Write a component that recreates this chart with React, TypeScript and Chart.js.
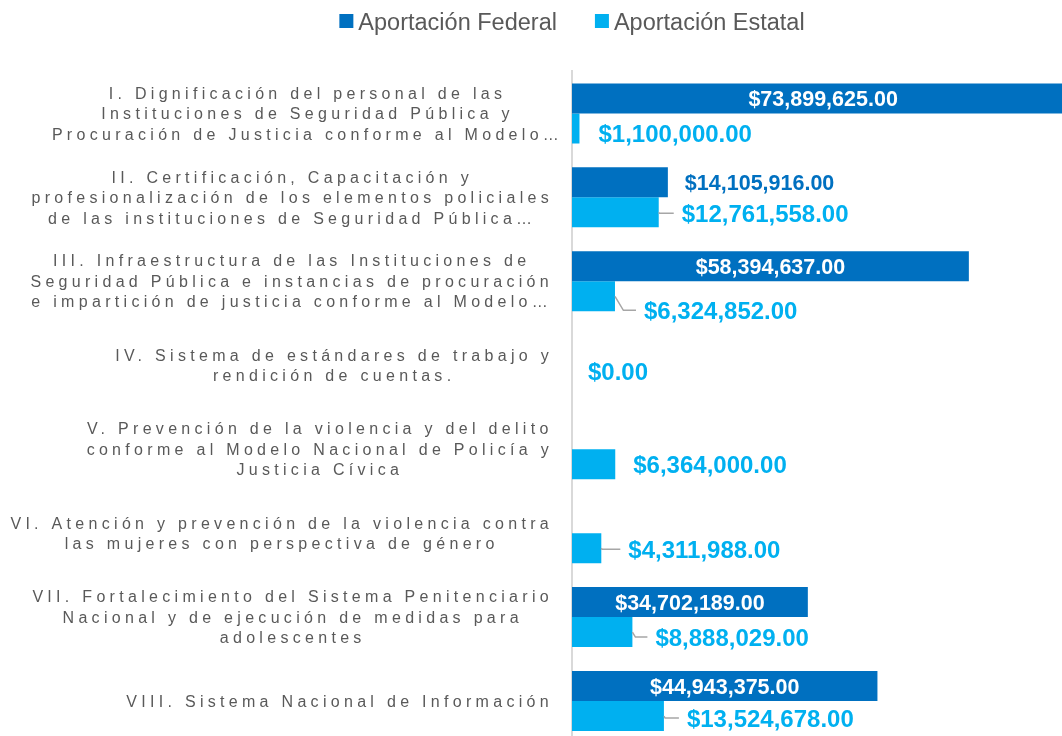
import React, { useEffect, useRef } from 'react';
import { Chart, registerables } from 'chart.js';

Chart.register(...registerables);

// ---------- data ----------
const categories: string[][] = [
  ['I. Dignificación del personal de las', 'Instituciones de Seguridad Pública y', 'Procuración de Justicia conforme al Modelo…'],
  ['II. Certificación, Capacitación y', 'profesionalización de los elementos policiales', 'de las instituciones de Seguridad Pública…'],
  ['III. Infraestructura de las Instituciones de', 'Seguridad Pública e instancias de procuración', 'e impartición de justicia conforme al Modelo…'],
  ['IV. Sistema de estándares de trabajo y', 'rendición de cuentas.'],
  ['V. Prevención de la violencia y del delito', 'conforme al Modelo Nacional de Policía y', 'Justicia Cívica'],
  ['VI. Atención y prevención de la violencia contra', 'las mujeres con perspectiva de género'],
  ['VII. Fortalecimiento del Sistema Penitenciario', 'Nacional y de ejecución de medidas para', 'adolescentes'],
  ['VIII. Sistema Nacional de Información'],
];
const federal: (number | null)[] = [73899625, 14105916, 58394637, null, null, null, 34702189, 44943375];
const estatal: number[] = [1100000, 12761558, 6324852, 0, 6364000, 4311988, 8888029, 13524678];
const seriesNames: string[] = ['Aportación Federal', 'Aportación Estatal'];
const xMax = 72100000;

// ---------- styles ----------
const COLORS = ['#0070C0', '#00B0F0'];
const TEXT_GRAY = '#595959';
const FONT = '"Liberation Sans", Arial, Helvetica, sans-serif';
// label placement for the Estatal data labels (style only)
const estatalLabelDx = [19, 23, 29, 16, 18, 27, 23, 23];
const estatalLabelDy = [5, 1, 14, -9, 0, 1, 5, 2];
const estatalLeader = [false, true, true, false, false, true, true, true];

const fmt = (v: number) => {
  const [i, d] = v.toFixed(2).split('.');
  return '$' + i.replace(/\B(?=(\d{3})+$)/g, ',') + '.' + d;
};

const customDraw = {
  id: 'customDraw',
  afterDatasetsDraw(chart: any) {
    const ctx: CanvasRenderingContext2D = chart.ctx;
    // federal labels
    ctx.save();
    ctx.font = `bold 21.5px ${FONT}`;
    ctx.textBaseline = 'alphabetic';
    const m0 = chart.getDatasetMeta(0);
    m0.data.forEach((bar: any, i: number) => {
      const v = federal[i];
      if (v == null) return;
      const t = fmt(v);
      const w = ctx.measureText(t).width;
      if (bar.x - bar.base > w + 10) {
        ctx.fillStyle = '#FFFFFF';
        ctx.textAlign = 'center';
        ctx.fillText(t, (bar.x + bar.base) / 2, bar.y + 7.6);
      } else {
        ctx.fillStyle = COLORS[0];
        ctx.textAlign = 'left';
        ctx.fillText(t, bar.x + 17, bar.y + 7.6);
      }
    });
    // estatal labels
    ctx.font = `bold 24px ${FONT}`;
    ctx.textAlign = 'left';
    const m1 = chart.getDatasetMeta(1);
    m1.data.forEach((bar: any, i: number) => {
      const v = estatal[i];
      if (v == null) return;
      const t = fmt(v);
      const lx = bar.x + estatalLabelDx[i];
      const ly = bar.y + estatalLabelDy[i];
      if (estatalLeader[i]) {
        ctx.strokeStyle = '#A6A6A6';
        ctx.lineWidth = 1.5;
        ctx.beginPath();
        ctx.moveTo(bar.x, bar.y);
        ctx.lineTo(bar.x + Math.abs(estatalLabelDy[i]) * 0.6, ly);
        ctx.lineTo(lx - 8, ly);
        ctx.stroke();
      }
      ctx.fillStyle = COLORS[1];
      ctx.fillText(t, lx, ly + 8.6);
    });
    ctx.restore();
  },
  afterDraw(chart: any) {
    const ctx: any = chart.ctx;
    const area = chart.chartArea;
    const yScale = chart.scales.y;
    // category labels
    ctx.save();
    const ls = 4.3;
    ctx.font = `16px ${FONT}`;
    ctx.letterSpacing = ls + 'px';
    ctx.fillStyle = TEXT_GRAY;
    ctx.textAlign = 'left';
    ctx.textBaseline = 'alphabetic';
    const right = area.left - 19;
    (chart.data.labels as string[][]).forEach((lines, i) => {
      const yc = yScale.getPixelForValue(i);
      const widths = lines.map((l) => ctx.measureText(l.replace(/…$/, '')).width);
      const W = Math.max(...widths);
      const cx = right - W / 2;
      lines.forEach((l, j) => {
        const w = ctx.measureText(l).width;
        const y = yc + (j - (lines.length - 1) / 2) * 20.5 + 5.7;
        ctx.fillText(l, cx - w / 2, y);
      });
    });
    ctx.restore();
    // legend
    ctx.save();
    ctx.font = `23.5px ${FONT}`;
    ctx.textAlign = 'left';
    ctx.textBaseline = 'alphabetic';
    const gapBox = 5, gapItem = 38, box = 14;
    const total = seriesNames.reduce((s, n) => s + box + gapBox + ctx.measureText(n).width, 0) + gapItem * (seriesNames.length - 1);
    let x = 572 - total / 2;
    seriesNames.forEach((n, i) => {
      ctx.fillStyle = COLORS[i];
      ctx.fillRect(x, 14, box, box);
      ctx.fillStyle = TEXT_GRAY;
      ctx.fillText(n, x + box + gapBox, 30);
      x += box + gapBox + ctx.measureText(n).width + gapItem;
    });
    ctx.restore();
  },
};

export default function App() {
  const ref = useRef<HTMLCanvasElement | null>(null);
  useEffect(() => {
    if (!ref.current) return;
    const chart = new Chart(ref.current, {
      type: 'bar',
      data: {
        labels: categories,
        datasets: [
          { label: seriesNames[0], data: federal, backgroundColor: COLORS[0], barThickness: 30, inflateAmount: 0 },
          { label: seriesNames[1], data: estatal, backgroundColor: COLORS[1], barThickness: 30, inflateAmount: 0 },
        ],
      },
      options: {
        indexAxis: 'y',
        animation: false,
        responsive: false,
        devicePixelRatio: 1,
        layout: { padding: { top: 71.4, left: 0, right: 0, bottom: 0 } },
        plugins: {
          legend: { display: false },
          tooltip: { enabled: false },
          title: { display: false },
        },
        scales: {
          x: { display: false, min: 0, max: xMax },
          y: {
            z: 1,
            grid: { display: false },
            ticks: { display: false },
            border: { display: true, color: '#D9D9D9', width: 2 },
            afterFit: (s: any) => { s.width = 572; },
          },
        },
      },
      plugins: [customDraw],
    } as any);
    return () => chart.destroy();
  }, []);
  return (
    <div style={{ position: 'absolute', left: 0, top: 0, width: 1062, height: 736, overflow: 'hidden', background: '#fff' }}>
      <canvas ref={ref} width={1062} height={743} style={{ display: 'block' }} />
    </div>
  );
}
